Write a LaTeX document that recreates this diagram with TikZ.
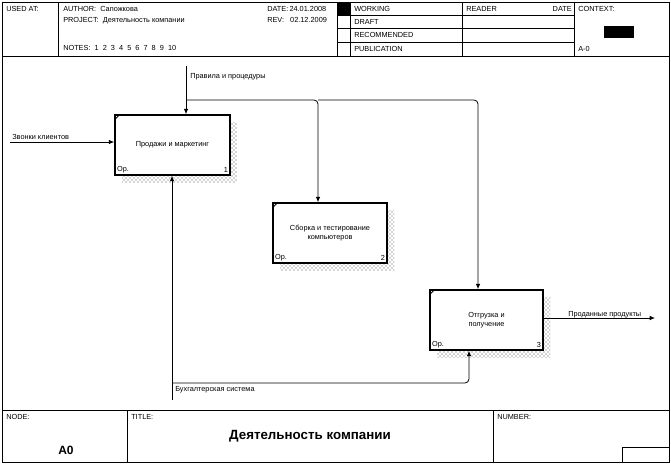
\documentclass[tikz,border=0pt]{standalone}
\usepackage{fontspec}
\setmainfont{Liberation Sans}
\usetikzlibrary{patterns,arrows.meta}
\begin{document}
\begin{tikzpicture}[x=0.75pt,y=-0.75pt,
  frame/.style={draw,line width=0.6pt},
  lbl/.style={inner sep=0pt,anchor=north west,font=\fontsize{5.5}{6}\selectfont},
  fn/.style={draw,line width=1.3pt,fill=white,align=center,font=\fontsize{5.5}{6.6}\selectfont,inner sep=0pt},
  arr/.style={line width=0.6pt,-{Latex[length=4pt,width=3.5pt]},rounded corners=3pt},
  ln/.style={line width=0.6pt,rounded corners=3pt}]
\useasboundingbox (0,0) rectangle (671,464);
\fill[white] (0,0) rectangle (671,464);
% frame
\draw[frame] (2,2) rectangle (669,462);
\draw[frame] (2,56) -- (669,56);
\draw[frame] (2,410) -- (669,410);
\foreach \x in {58,337,350,462,574} \draw[frame] (\x,2) -- (\x,56);
\foreach \y in {15,28,42} \draw[frame] (337,\y) -- (574,\y);
\fill (337,2) rectangle (350,15);
\fill (604,26) rectangle (634,38);
\node[lbl] (ua) at (6,6) {USED AT:};
\node[lbl] (au) at (63,6) {AUTHOR:\ \ Сапожкова};
\node[lbl] (pr) at (63,17) {PROJECT:\ \ Деятельность компании};
\node[lbl] (no) at (63,45) {NOTES:\ \ 1\ \ 2\ \ 3\ \ 4\ \ 5\ \ 6\ \ 7\ \ 8\ \ 9\ \ 10};
\node[lbl] (da) at (267,6) {DATE:\,24.01.2008};
\node[lbl] (re) at (267,17) {REV:\ \ \ 02.12.2009};
\node[lbl] (w) at (354,6) {WORKING};
\node[lbl] (d) at (354,19) {DRAFT};
\node[lbl] (r) at (354,32) {RECOMMENDED};
\node[lbl] (p) at (354,46) {PUBLICATION};
\node[lbl] (rd) at (466,6) {READER};
\node[lbl,anchor=north east] (rdd) at (572,6) {DATE};
\node[lbl] (cx) at (578,6) {CONTEXT:};
\node[lbl] (a0s) at (578,46) {A-0};
% bottom
\draw[frame] (127,410) -- (127,462);
\draw[frame] (493,410) -- (493,462);
\draw[frame] (622,447) -- (622,462) (622,447) -- (669,447);
\node[lbl] (nd) at (6,414) {NODE:};
\node[lbl] (tt) at (131,414) {TITLE:};
\node[lbl] (nm) at (497,414) {NUMBER:};
\node[font=\fontsize{9}{10}\selectfont\bfseries] (a0) at (66,450) {A0};
\node[font=\fontsize{10}{11}\selectfont\bfseries] (title) at (310,436) {Деятельность компании};
% boxes with shadows
\foreach \a/\b/\c/\d in {115/115/230/175, 273/203/387/263, 430/290/543/350}{
  \fill[pattern=crosshatch dots,pattern color=black!70] (\a+7,\b+7) rectangle (\c+7,\d+7);
}
\node[fn,minimum width=86.25pt,minimum height=45pt] (b1) at (172.5,145) {Продажи и маркетинг};
\node[fn,minimum width=85.5pt,minimum height=45pt] (b2) at (330,233) {Сборка и тестирование\\компьютеров};
\node[fn,minimum width=84.75pt,minimum height=45pt] (b3) at (486.5,320) {Отгрузка и\\получение};
\foreach \b/\n in {b1/1,b2/2,b3/3}{
  \draw[line width=0.6pt] ([xshift=0.5pt,yshift=-4pt]\b.north west) -- ([xshift=4pt,yshift=-0.5pt]\b.north west);
  \node[lbl,anchor=south west] at ([xshift=2pt,yshift=2pt]\b.south west) {Ор.};
  \node[lbl,anchor=south east] at ([xshift=-2pt,yshift=2pt]\b.south east) {\n};
}
% arrows
\coordinate (cs) at (186,66);
\coordinate (in) at (10,142);
\coordinate (out) at (655,318);
\coordinate (ms) at (172,400);
\draw[arr] (cs) -- (b1.north -| cs);
\draw[arr] (186,100) -- (318,100) -- (b2.north -| 318,0);
\draw[arr] (318,100) -- (478,100) -- (b3.north -| 478,0);
\draw[arr] (in) -- (b1.west |- in);
\draw[arr] (b3.east |- out) -- (out);
\draw[arr] (ms) -- (b1.south -| ms);
\draw[arr] (172,383) -- (469,383) -- (b3.south -| 469,0);
\node[lbl] (lc) at (190,73) {Правила и процедуры};
\node[lbl] (li) at (12,134) {Звонки клиентов};
\node[lbl] (lo) at (568,311) {Проданные продукты};
\node[lbl] (lm) at (175,386) {Бухгалтерская система};
\end{tikzpicture}
\end{document}
